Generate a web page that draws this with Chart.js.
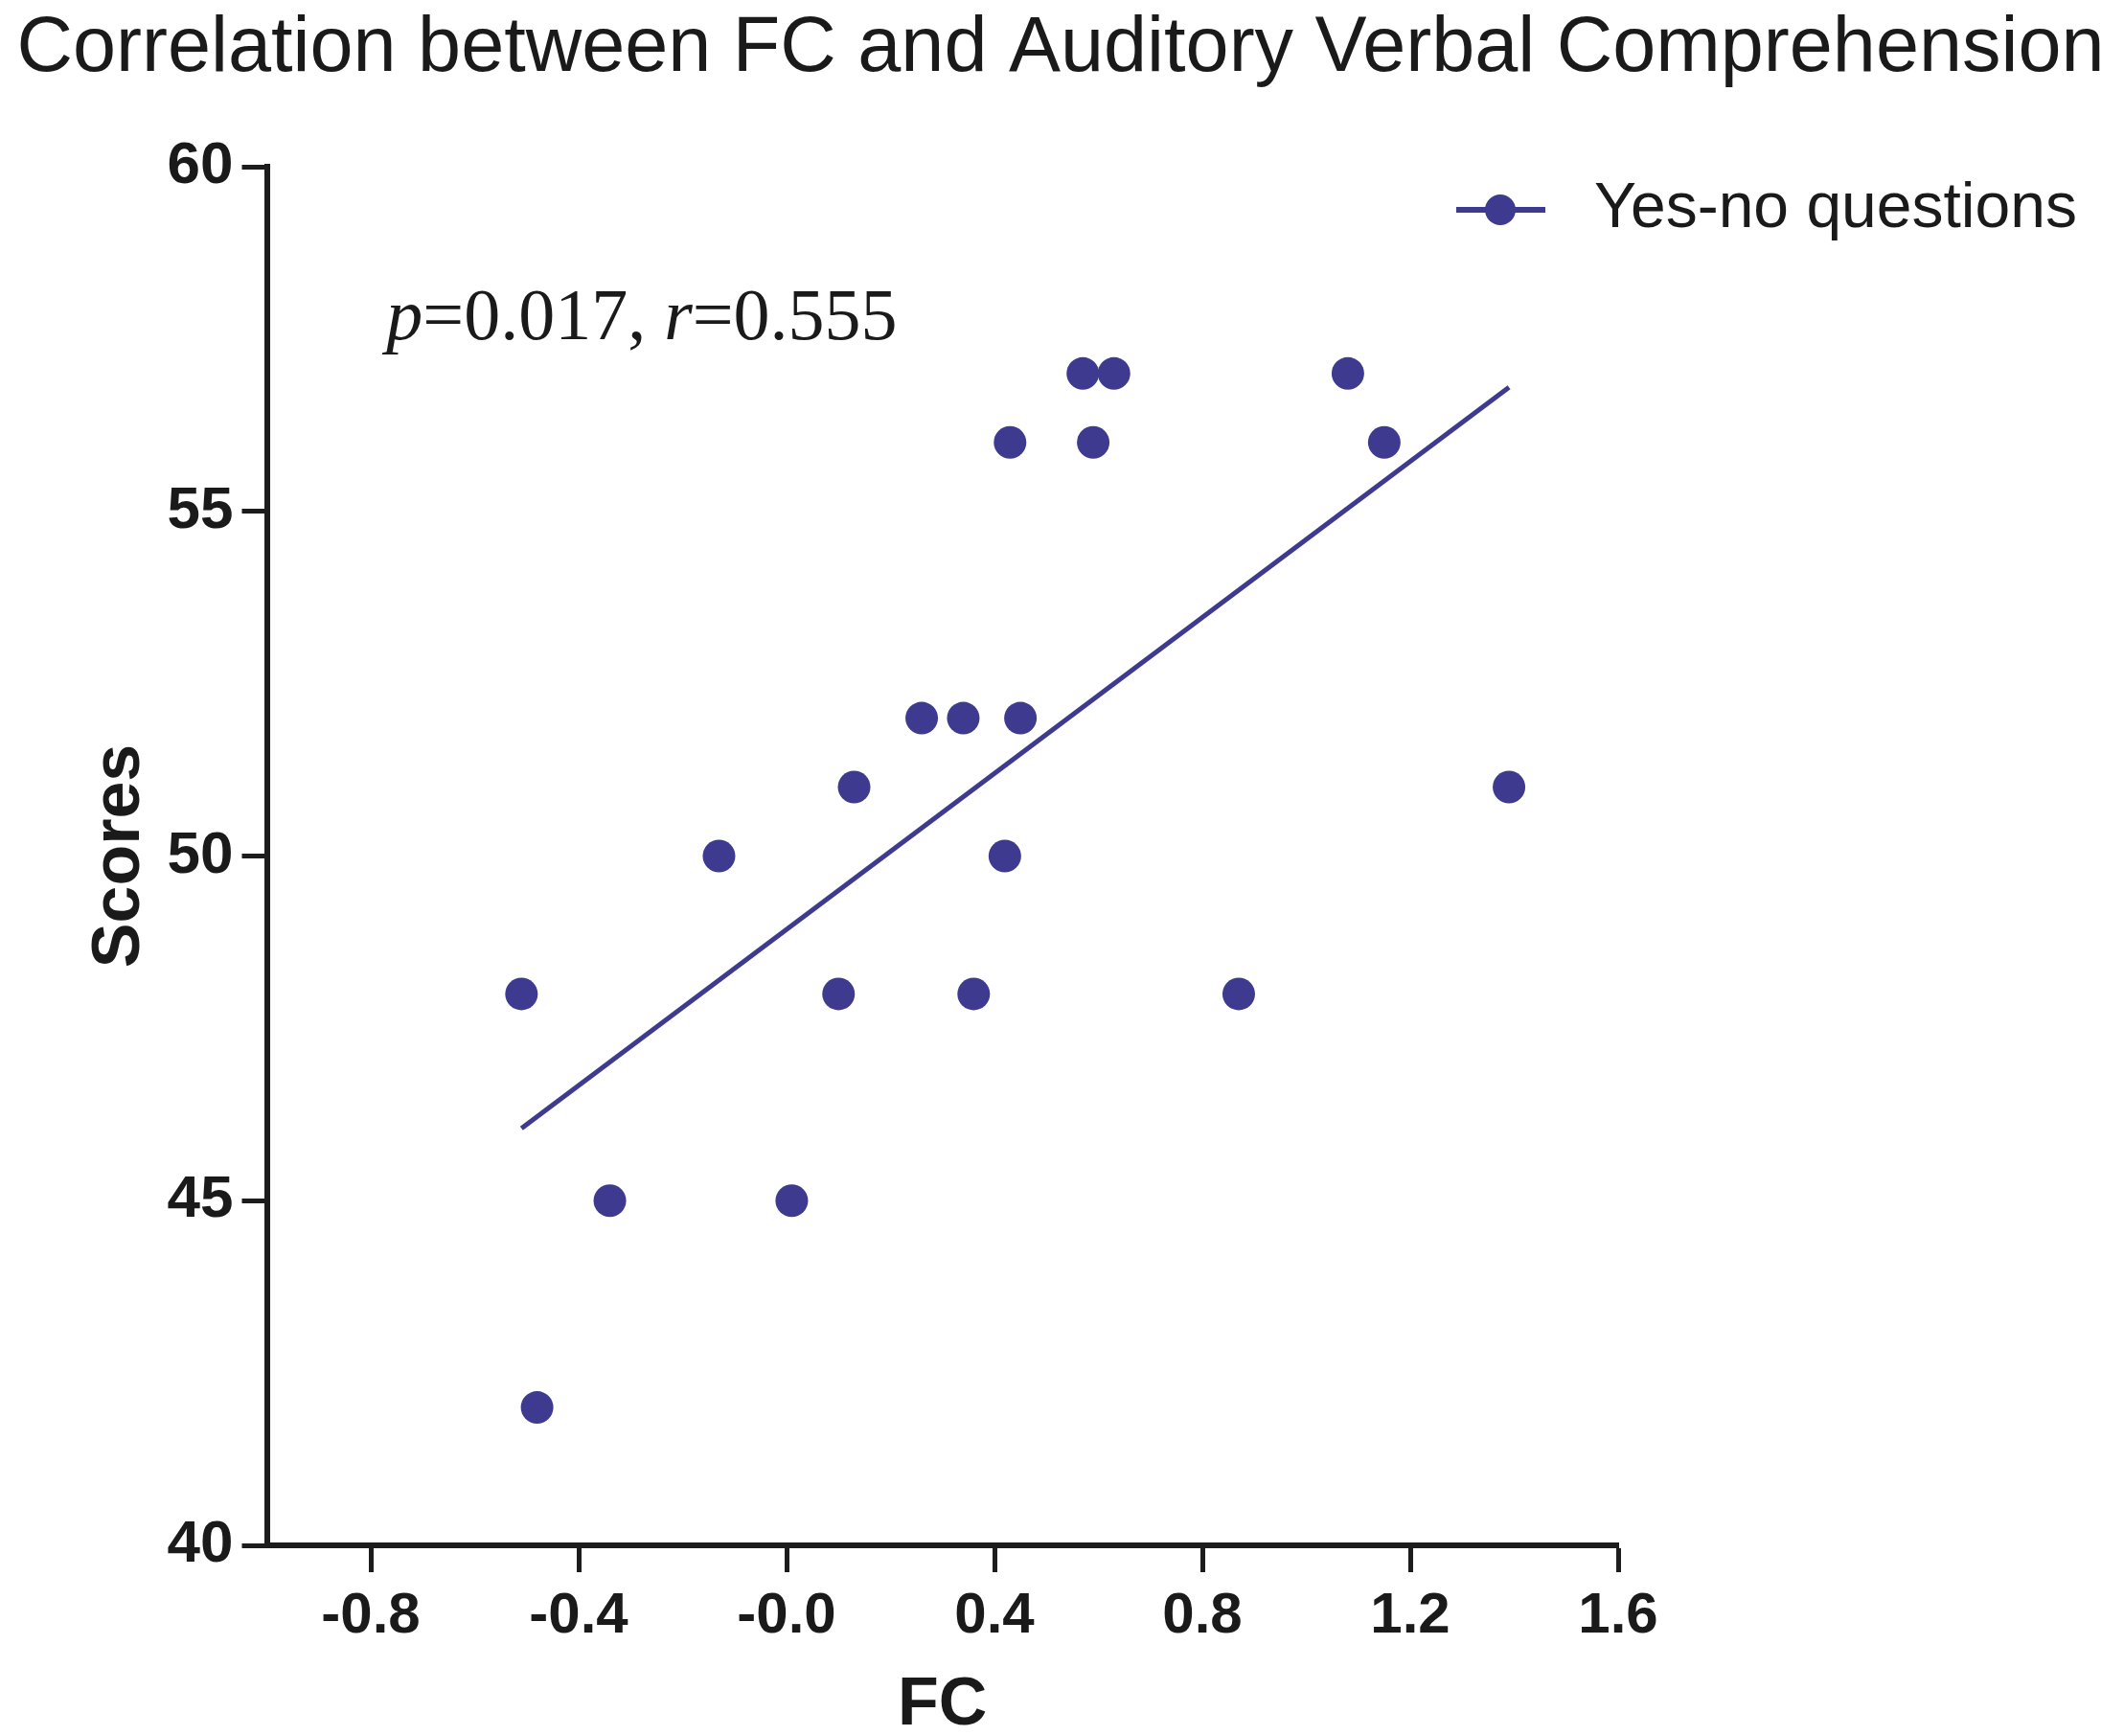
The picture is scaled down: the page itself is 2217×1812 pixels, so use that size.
<!DOCTYPE html>
<html>
<head>
<meta charset="utf-8">
<script src="https://cdn.jsdelivr.net/npm/chart.js@4.4.1/dist/chart.umd.min.js"></script>
<style>
  html, body { margin: 0; padding: 0; background: #ffffff; }
  canvas { display: block; }
</style>
</head>
<body>
<canvas id="c" width="2217" height="1812" style="width:2217px;height:1812px"></canvas>
<script>
// ---- data ----
const chartTitle = 'Correlation between FC and Auditory Verbal Comprehension';
const seriesLabel = 'Yes-no questions';
const xAxisTitle = 'FC';
const yAxisTitle = 'Scores';
const fcValues = [-0.51, -0.48, -0.34, -0.13, 0.01, 0.10, 0.13, 0.26, 0.34, 0.36, 0.42, 0.43, 0.45, 0.57, 0.59, 0.63, 0.87, 1.08, 1.15, 1.39];
const scoreValues = [48, 42, 45, 50, 45, 48, 51, 52, 52, 48, 50, 56, 52, 57, 56, 57, 48, 57, 56, 51];
const fitX = [-0.51, 1.39];
const fitY = [46.05, 56.8];
const xTickValues = [-0.8, -0.4, 0.0, 0.4, 0.8, 1.2, 1.6];
const xTickLabels = ['-0.8', '-0.4', '-0.0', '0.4', '0.8', '1.2', '1.6'];
const statParts = [
  { text: 'p', italic: true },
  { text: '=0.017, ', italic: false },
  { text: 'r', italic: true },
  { text: '=0.555', italic: false }
];
const statAnchor = { x: -0.77, y: 57.5 };

// ---- styling ----
const markColor = '#3d3a8f';
const axisColor = '#1c1c1c';
const sans = "'Liberation Sans', Arial, sans-serif";
const serif = "'Liberation Serif', 'Times New Roman', serif";

const overlayPlugin = {
  id: 'overlay',
  afterDraw(chart) {
    const ctx = chart.ctx;
    const xs = chart.scales.x, ys = chart.scales.y;

    // chart title
    ctx.save();
    ctx.fillStyle = '#1a1a1a';
    ctx.font = '81px ' + sans;
    ctx.textAlign = 'center';
    ctx.textBaseline = 'alphabetic';
    ctx.fillText(chartTitle, 1107, 74);
    ctx.restore();

    // stats annotation
    ctx.save();
    ctx.fillStyle = '#1a1a1a';
    ctx.textBaseline = 'alphabetic';
    ctx.textAlign = 'left';
    let px = xs.getPixelForValue(statAnchor.x);
    const py = ys.getPixelForValue(statAnchor.y);
    for (const part of statParts) {
      ctx.font = (part.italic ? 'italic ' : '') + '76px ' + serif;
      ctx.fillText(part.text, px, py);
      px += ctx.measureText(part.text).width;
    }
    ctx.restore();

    // legend
    ctx.save();
    const ly = 219;
    ctx.strokeStyle = markColor;
    ctx.lineWidth = 6;
    ctx.beginPath();
    ctx.moveTo(1520, ly);
    ctx.lineTo(1613, ly);
    ctx.stroke();
    ctx.fillStyle = markColor;
    ctx.beginPath();
    ctx.arc(1566, ly, 16, 0, Math.PI * 2);
    ctx.fill();
    ctx.fillStyle = '#1a1a1a';
    ctx.font = '66px ' + sans;
    ctx.textBaseline = 'middle';
    ctx.textAlign = 'left';
    ctx.fillText(chart.data.datasets[0].label, 1664, ly);
    ctx.restore();
  }
};

new Chart(document.getElementById('c'), {
  type: 'scatter',
  data: {
    datasets: [
      {
        label: seriesLabel,
        data: fcValues.map((v, i) => ({ x: v, y: scoreValues[i] })),
        backgroundColor: markColor,
        borderColor: markColor,
        pointRadius: 17,
        pointBorderWidth: 0,
        order: 1
      },
      {
        type: 'line',
        label: 'fit',
        data: fitX.map((v, i) => ({ x: v, y: fitY[i] })),
        borderColor: markColor,
        borderWidth: 5,
        pointRadius: 0,
        fill: false,
        order: 2
      }
    ]
  },
  options: {
    responsive: false,
    devicePixelRatio: 1,
    animation: false,
    layout: { padding: { top: 174, left: 0, right: 528, bottom: 0 } },
    plugins: {
      legend: { display: false },
      tooltip: { enabled: false },
      title: { display: false }
    },
    scales: {
      x: {
        type: 'linear',
        min: -1.0,
        max: 1.6,
        afterBuildTicks: (scale) => { scale.ticks = xTickValues.map(v => ({ value: v })); },
        afterFit: (scale) => { scale.height = 199; },
        ticks: {
          callback: (v, i) => xTickLabels[i],
          color: '#1a1a1a',
          font: { family: sans, size: 60, weight: 'bold' },
          padding: 10,
          maxRotation: 0,
          autoSkip: false
        },
        grid: {
          drawOnChartArea: false,
          drawTicks: true,
          tickLength: 28,
          tickWidth: 5,
          tickColor: axisColor,
          color: axisColor
        },
        border: { display: true, color: axisColor, width: 6 },
        title: {
          display: true,
          text: xAxisTitle,
          color: '#1a1a1a',
          font: { family: sans, size: 70, weight: 'bold', lineHeight: 0.9 },
          padding: 0
        }
      },
      y: {
        type: 'linear',
        min: 40,
        max: 60,
        afterFit: (scale) => { scale.width = 278.5; },
        ticks: {
          stepSize: 5,
          color: '#1a1a1a',
          font: { family: sans, size: 62, weight: 'bold' },
          padding: 9
        },
        grid: {
          drawOnChartArea: false,
          drawTicks: true,
          tickLength: 26,
          tickWidth: 5,
          tickColor: axisColor,
          color: axisColor
        },
        border: { display: true, color: axisColor, width: 6 },
        title: {
          display: true,
          text: yAxisTitle,
          color: '#1a1a1a',
          font: { family: sans, size: 70, weight: 'bold', lineHeight: 1.0 },
          padding: { top: 91, bottom: 0 }
        }
      }
    }
  },
  plugins: [overlayPlugin]
});
</script>
</body>
</html>
